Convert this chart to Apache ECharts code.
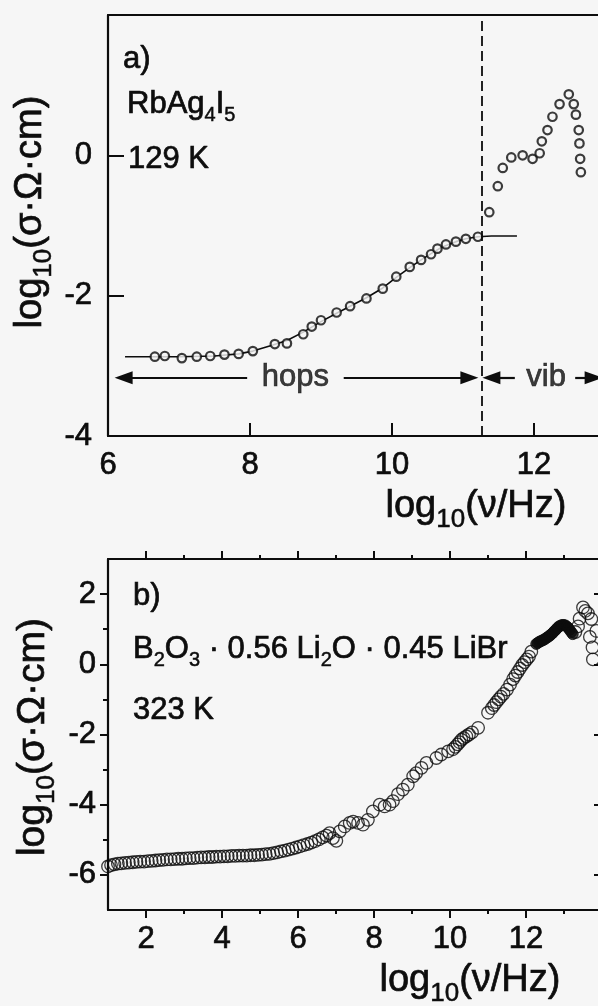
<!DOCTYPE html>
<html>
<head>
<meta charset="utf-8">
<script src="https://cdn.jsdelivr.net/npm/echarts@6/dist/echarts.min.js"></script>
<style>
  html, body { margin: 0; padding: 0; background: #f6f6f6; }
  #chart { width: 598px; height: 1006px; }
</style>
</head>
<body>
<div id="chart"></div>
<script>
// ---- Panel a: RbAg4I5, 129 K ----
const hopsPoints = [
  [6.66,-2.87],[6.80,-2.86],[7.04,-2.89],[7.25,-2.87],[7.44,-2.86],[7.64,-2.84],[7.84,-2.83],
  [8.04,-2.79],[8.35,-2.69],[8.52,-2.68],[8.75,-2.55],[8.87,-2.44],[9.00,-2.35],[9.22,-2.24],
  [9.41,-2.15],[9.64,-2.04],[9.87,-1.90],[10.06,-1.73],[10.25,-1.59],[10.41,-1.49],[10.55,-1.41],
  [10.64,-1.33],[10.76,-1.27],[10.90,-1.23],[11.04,-1.19],[11.21,-1.16]
];
const vibPoints = [
  [11.37,-0.81],[11.49,-0.44],[11.56,-0.18],[11.68,-0.03],[11.84,0.00],[11.98,-0.05],
  [12.08,0.03],[12.11,0.20],[12.19,0.36],[12.26,0.55],[12.36,0.73],[12.49,0.87],
  [12.56,0.73],[12.59,0.58],[12.63,0.36],[12.64,0.17],[12.65,-0.05],[12.66,-0.24]
];
const hopsFit = [
  [6.24,-2.87],[6.66,-2.87],[7.0,-2.87],[7.5,-2.86],[7.84,-2.83],[8.04,-2.79],[8.3,-2.71],
  [8.52,-2.64],[8.75,-2.52],[9.0,-2.37],[9.22,-2.25],[9.41,-2.15],[9.64,-2.03],[9.87,-1.89],
  [10.06,-1.74],[10.25,-1.60],[10.41,-1.49],[10.55,-1.40],[10.7,-1.31],[10.9,-1.23],
  [11.04,-1.19],[11.21,-1.16],[11.4,-1.15],[11.76,-1.15]
];
const regimeBoundary = 11.27;       // hops | vib
const regimeArrowLevel = -3.17;
// arrow segments [from, to, which end carries the head]
const regimeArrows = [
  [6.22, 7.96, 'start'],
  [9.32, 11.09, 'end'],
  [11.40, 11.73, 'start'],
  [12.58, 12.84, 'end']
];
const regimeLabels = [
  { name: 'hops', value: [8.64, -3.17] },
  { name: 'vib',  value: [12.17, -3.17] }
];
const xTickLabelsA = [6, 8, 10, 12];
const yTickLabelsA = [-4, -2, 0];

// ---- Panel b: B2O3 · 0.56 Li2O · 0.45 LiBr, 323 K ----
const glassOpen = [
  [1.00,-5.76],[1.08,-5.72],[1.17,-5.70],[1.26,-5.68],[1.35,-5.67],[1.45,-5.66],[1.55,-5.65],
  [1.65,-5.64],[1.75,-5.63],[1.85,-5.62],[1.95,-5.62],[2.05,-5.61],[2.15,-5.60],[2.25,-5.59],
  [2.35,-5.58],[2.45,-5.57],[2.55,-5.56],[2.65,-5.56],[2.75,-5.55],[2.85,-5.54],[2.95,-5.54],
  [3.05,-5.53],[3.15,-5.52],[3.25,-5.52],[3.35,-5.51],[3.45,-5.50],[3.55,-5.50],[3.65,-5.49],
  [3.75,-5.49],[3.85,-5.48],[3.95,-5.48],[4.05,-5.47],[4.15,-5.47],[4.25,-5.46],[4.35,-5.46],
  [4.45,-5.45],[4.55,-5.45],[4.65,-5.45],[4.75,-5.44],[4.85,-5.44],[4.95,-5.43],[5.05,-5.42],
  [5.15,-5.41],[5.25,-5.40],[5.35,-5.38],[5.45,-5.36],[5.55,-5.33],[5.65,-5.31],[5.75,-5.28],
  [5.85,-5.25],[5.95,-5.22],[6.05,-5.19],[6.15,-5.15],[6.25,-5.12],[6.35,-5.08],[6.45,-5.04],
  [6.55,-4.99],[6.65,-4.93],[6.75,-4.88],[6.83,-4.81],[6.92,-4.95],[7.01,-5.03],[7.10,-4.76],
  [7.23,-4.62],[7.36,-4.52],[7.45,-4.48],[7.58,-4.52],[7.71,-4.57],[7.84,-4.43],[7.97,-4.19],
  [8.15,-4.00],[8.28,-4.05],[8.41,-4.00],[8.50,-3.90],[8.63,-3.70],[8.76,-3.57],[8.89,-3.43],
  [9.03,-3.19],[9.11,-3.10],[9.25,-2.95],[9.38,-2.81],[9.64,-2.67],[9.77,-2.57],[9.95,-2.48],
  [10.08,-2.42],[10.14,-2.35],[10.20,-2.28],[10.25,-2.22],[10.30,-2.15],[10.36,-2.10],
  [10.43,-2.05],[10.50,-2.00],[10.58,-1.94],[10.74,-1.81],[11.00,-1.38],[11.10,-1.25],
  [11.16,-1.16],[11.22,-1.08],[11.28,-1.00],[11.34,-0.92],[11.41,-0.84],[11.50,-0.72],
  [11.58,-0.58],[11.66,-0.42],[11.72,-0.32],[11.78,-0.22],[11.84,-0.12],[11.90,-0.02],
  [11.96,0.06],[12.02,0.14],[12.08,0.22],[12.14,0.36],
  [13.30,0.92],[13.37,1.08],[13.41,1.30],[13.50,1.62],[13.56,1.52],[13.63,1.45],[13.72,1.29],
  [13.68,0.78],[13.75,0.48],[13.76,0.14],[13.85,0.95]
];
const glassFilled = [
  [12.27,0.58],[12.31,0.61],[12.35,0.64],[12.39,0.66],[12.43,0.68],[12.47,0.70],[12.51,0.73],
  [12.55,0.76],[12.59,0.79],[12.63,0.82],[12.67,0.86],[12.71,0.90],[12.75,0.95],[12.79,0.99],
  [12.83,1.04],[12.87,1.08],[12.91,1.10],[12.95,1.12],[12.99,1.12],[13.03,1.11],[13.07,1.08],
  [13.11,1.04],[13.15,0.98],[13.19,0.92],[13.23,0.86]
];
const xTickLabelsB = [2, 4, 6, 8, 10, 12];
const yTickLabelsB = [-6, -4, -2, 0, 2];
const xMajorB = [2, 4, 6, 8, 10, 12, 14];
const xMinorB = [3, 5, 7, 9, 11, 13];
const yMajorB = [-6, -4, -2, 0, 2];
const yMinorB = [-5, -3, -1, 1];

const INK = '#0d0d0d';
const FONT = '"Liberation Sans", Arial, Helvetica, sans-serif';

function frameAxis(extra) {
  return Object.assign({
    type: 'value',
    splitLine: { show: false },
    axisLine: { show: true, onZero: false, lineStyle: { color: INK, width: 2.2 } },
    axisTick: { show: false },
    axisLabel: { show: false }
  }, extra);
}
function ticks(values, length, inside) {
  return { show: true, inside: !!inside, length: length, customValues: values,
           lineStyle: { color: INK, width: 2 } };
}
function labels(values, margin) {
  return { show: true, customValues: values, margin: margin, color: INK,
           fontSize: 31, fontFamily: FONT, textBorderColor: INK, textBorderWidth: 0.7 };
}

// Rich-text block: {m|...} main glyphs hang from the line top, {s|...} subscripts sit at its bottom
function richStyle(size, subSize, lineH) {
  return {
    m: { fontSize: size, fontFamily: FONT, fill: INK, verticalAlign: 'top', lineHeight: size,
         stroke: INK, lineWidth: 0.7 },
    s: { fontSize: subSize, fontFamily: FONT, fill: INK, verticalAlign: 'bottom', lineHeight: lineH,
         stroke: INK, lineWidth: 0.5 }
  };
}
function note(text, x, y, opts) {
  opts = opts || {};
  const size = opts.size || 31;
  const sub = opts.sub || 20;
  const lh = opts.lineH || 36;
  return {
    type: 'text', x: x, y: y, silent: true, rotation: opts.rotation || 0,
    style: {
      text: text, fill: INK, fontSize: size, fontFamily: FONT,
      align: opts.align || 'left', verticalAlign: 'middle',
      rich: richStyle(size, sub, lh)
    }
  };
}

const HEAD = [13, 18];
const arrowLines = regimeArrows.map(([from, to, head]) => [
  { coord: [from, regimeArrowLevel], symbol: head === 'start' ? 'triangle' : 'none', symbolSize: HEAD },
  { coord: [to, regimeArrowLevel], symbol: head === 'end' ? 'triangle' : 'none', symbolSize: HEAD }
]);

const chart = echarts.init(document.getElementById('chart'), null, { renderer: 'canvas' });

chart.setOption({
  animation: false,
  backgroundColor: '#f6f6f6',
  // both frames run past the right edge of the page
  grid: [
    { left: 108, top: 15, width: 568, height: 421, outerBoundsMode: 'none', containLabel: false },
    { left: 108, top: 559, width: 494, height: 351, outerBoundsMode: 'none', containLabel: false }
  ],
  xAxis: [
    frameAxis({ gridIndex: 0, min: 6, max: 14, position: 'bottom',
      axisTick: ticks([8, 10, 12], 13, true), axisLabel: labels(xTickLabelsA, 14) }),
    frameAxis({ gridIndex: 0, min: 6, max: 14, position: 'top' }),
    frameAxis({ gridIndex: 1, min: 1, max: 14, position: 'bottom',
      axisTick: ticks(xMajorB, 8), axisLabel: labels(xTickLabelsB, 14) }),
    frameAxis({ gridIndex: 1, min: 1, max: 14, position: 'bottom',
      axisLine: { show: false, onZero: false }, axisTick: ticks(xMinorB, 4) }),
    frameAxis({ gridIndex: 1, min: 1, max: 14, position: 'top',
      axisTick: ticks(xMajorB, 8) }),
    frameAxis({ gridIndex: 1, min: 1, max: 14, position: 'top',
      axisLine: { show: false, onZero: false }, axisTick: ticks(xMinorB, 4) })
  ],
  yAxis: [
    frameAxis({ gridIndex: 0, min: -4, max: 2, position: 'left',
      axisTick: ticks([-2, 0], 16, true), axisLabel: labels(yTickLabelsA, 16) }),
    frameAxis({ gridIndex: 0, min: -4, max: 2, position: 'right' }),
    frameAxis({ gridIndex: 1, min: -7, max: 3, position: 'left',
      axisTick: ticks(yMajorB, 8), axisLabel: labels(yTickLabelsB, 12) }),
    frameAxis({ gridIndex: 1, min: -7, max: 3, position: 'left',
      axisLine: { show: false, onZero: false }, axisTick: ticks(yMinorB, 5) }),
    frameAxis({ gridIndex: 1, min: -7, max: 3, position: 'right',
      axisTick: ticks(yMajorB, 8, true) })
  ],
  series: [
    {
      name: 'hopping fit', type: 'line', xAxisIndex: 0, yAxisIndex: 0,
      data: hopsFit, showSymbol: false, symbol: 'none', z: 2,
      lineStyle: { color: INK, width: 1.6 },
      markLine: {
        silent: true, animation: false, symbol: ['none', 'none'],
        label: { show: false },
        lineStyle: { color: INK, width: 2.2, type: 'solid' },
        data: [
          { xAxis: regimeBoundary, lineStyle: { type: [10, 5], width: 1.8, color: INK } }
        ].concat(arrowLines)
      }
    },
    {
      name: 'hops', type: 'scatter', xAxisIndex: 0, yAxisIndex: 0, data: hopsPoints,
      symbol: 'circle', symbolSize: 8.5, z: 3,
      itemStyle: { color: '#f6f6f6', borderColor: INK, borderWidth: 2.2 }
    },
    {
      name: 'vib', type: 'scatter', xAxisIndex: 0, yAxisIndex: 0, data: vibPoints,
      symbol: 'circle', symbolSize: 8.5, z: 3,
      itemStyle: { color: '#f6f6f6', borderColor: INK, borderWidth: 2.2 }
    },
    {
      name: 'regime labels', type: 'scatter', xAxisIndex: 0, yAxisIndex: 0,
      data: regimeLabels, symbolSize: 0, silent: true, z: 4,
      label: { show: true, position: 'inside', formatter: p => p.name,
               color: INK, fontSize: 31, fontFamily: FONT,
               textBorderColor: INK, textBorderWidth: 0.7 }
    },
    {
      name: 'glass open', type: 'scatter', xAxisIndex: 2, yAxisIndex: 2, data: glassOpen,
      symbol: 'circle', symbolSize: 12.5, clip: false, z: 3,
      itemStyle: { color: 'rgba(0,0,0,0)', borderColor: INK, borderWidth: 1.3 }
    },
    {
      name: 'glass filled', type: 'scatter', xAxisIndex: 2, yAxisIndex: 2, data: glassFilled,
      symbol: 'circle', symbolSize: 11, clip: false, z: 3,
      itemStyle: { color: INK, borderColor: INK, borderWidth: 1 }
    }
  ],
  graphic: [
    note('{m|a)}', 123, 59),
    note('{m|RbAg}{s|4}{m|I}{s|5}', 127, 107),
    note('{m|129 K}', 128, 159),
    note('{m|b)}', 133, 596),
    note('{m|B}{s|2}{m|O}{s|3}{m| · 0.56 Li}{s|2}{m|O · 0.45 LiBr}', 133, 652),
    note('{m|323 K}', 133, 710),
    // axis titles
    note('{m|log}{s|10}{m|(ν/Hz)}', 476, 510, { size: 38, sub: 26, lineH: 45, align: 'center' }),
    note('{m|log}{s|10}{m|(ν/Hz)}', 470, 984, { size: 38, sub: 26, lineH: 45, align: 'center' }),
    note('{m|log}{s|10}{m|(σ·Ω·cm)}', 34, 212, { size: 38, sub: 26, lineH: 45, align: 'center', rotation: Math.PI / 2 }),
    note('{m|log}{s|10}{m|(σ·Ω·cm)}', 37, 737, { size: 39, sub: 26, lineH: 46, align: 'center', rotation: Math.PI / 2 })
  ]
});
</script>
</body>
</html>
